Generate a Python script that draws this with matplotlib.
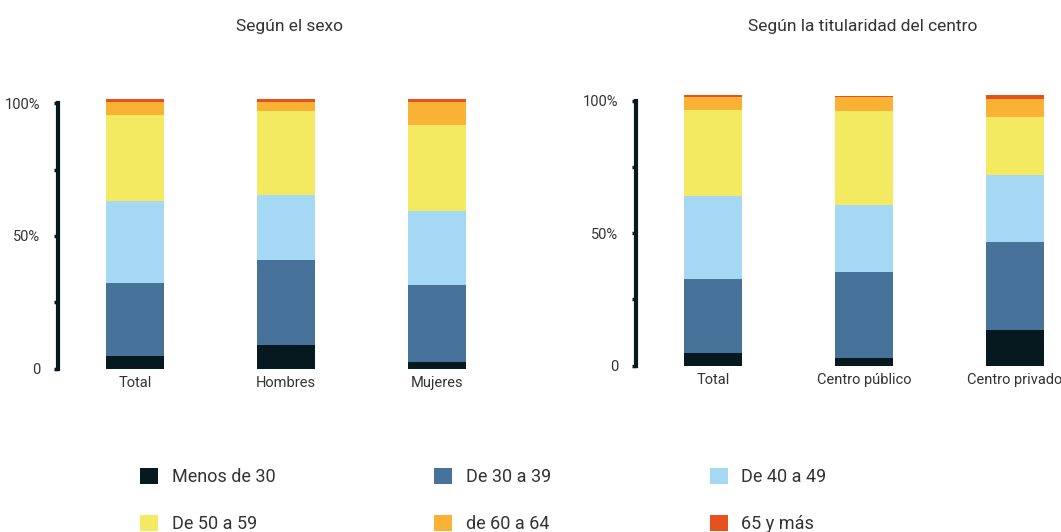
import matplotlib.pyplot as plt
from matplotlib.patches import Patch

plt.rcParams['font.family'] = ['Roboto', 'DejaVu Sans']

# age groups (stack order, bottom to top)
groups = ['Menos de 30', 'De 30 a 39', 'De 40 a 49', 'De 50 a 59', 'de 60 a 64', '65 y más']
colors = ['#06191f', '#47729a', '#a4d8f3', '#f3ea62', '#f9b233', '#e8501d']

# panel 1: por sexo
sex_cats = ['Total', 'Hombres', 'Mujeres']
sex_menos30 = [4.8, 8.9, 2.5]
sex_30_39 = [27.4, 31.9, 28.9]
sex_40_49 = [31.1, 24.8, 28.1]
sex_50_59 = [32.3, 31.5, 32.3]
sex_60_64 = [4.9, 3.4, 8.6]
sex_65 = [1.1, 1.1, 1.1]

# panel 2: por titularidad
tit_cats = ['Total', 'Centro público', 'Centro privado']
tit_menos30 = [4.8, 3.0, 13.5]
tit_30_39 = [27.9, 32.3, 33.2]
tit_40_49 = [31.3, 25.3, 25.3]
tit_50_59 = [32.5, 35.5, 21.9]
tit_60_64 = [4.9, 5.4, 6.8]
tit_65 = [0.9, 0.4, 1.6]

fig = plt.figure(figsize=(10.61, 5.32), dpi=100)
ax1 = fig.add_axes([0.0547, 0.307, 0.4284, 0.5088])
ax2 = fig.add_axes([0.5994, 0.3126, 0.3998, 0.508])

axcol = '#06191f'
txtcol = '#333333'


def draw_panel(ax, cats, series, xmax):
    x = list(range(len(cats)))
    bottom = [0] * len(cats)
    for vals, c in zip(series, colors):
        ax.bar(x, vals, width=0.384, bottom=bottom, color=c)
        bottom = [b + v for b, v in zip(bottom, vals)]
    ax.set_xlim(-0.51, xmax)
    ax.set_ylim(0, 102)
    for s in ['top', 'right', 'bottom']:
        ax.spines[s].set_visible(False)
    ax.spines['left'].set_color(axcol)
    ax.spines['left'].set_linewidth(3)
    ax.spines['left'].set_bounds(0, 100)
    ax.set_yticks([0, 25, 50, 75, 100])
    ax.set_yticklabels(['0', '', '50%', '', '100%'])
    ax.tick_params(axis='y', length=3, width=2.5, color=axcol, pad=10,
                   labelsize=10.5, labelcolor=txtcol)
    ax.set_xticks(x)
    ax.set_xticklabels(cats)
    ax.tick_params(axis='x', length=0, pad=5, labelsize=10.5, labelcolor=txtcol)


draw_panel(ax1, sex_cats, [sex_menos30, sex_30_39, sex_40_49, sex_50_59, sex_60_64, sex_65], 2.5)
draw_panel(ax2, tit_cats, [tit_menos30, tit_30_39, tit_40_49, tit_50_59, tit_60_64, tit_65], 2.3)

fig.text(290 / 1061, 1 - 26 / 532, 'Según el sexo', ha='center', va='center',
         fontsize=12.5, color=txtcol)
fig.text(863 / 1061, 1 - 26 / 532, 'Según la titularidad del centro', ha='center', va='center',
         fontsize=12.5, color=txtcol)

# legend filled row by row, 3 per row
handles = [Patch(facecolor=c, label=g) for g, c in zip(groups, colors)]
order = [0, 3, 1, 4, 2, 5]
leg = fig.legend(handles=[handles[i] for i in order], ncol=3, loc='upper left',
                 bbox_to_anchor=(140 / 1061, 1 - 468 / 532), frameon=False,
                 fontsize=13, handlelength=1.0, handleheight=1.0, handletextpad=0.75,
                 columnspacing=8.8, labelspacing=1.6, borderpad=0, borderaxespad=0)
for t in leg.get_texts():
    t.set_color(txtcol)

fig.savefig('out.png', dpi=100)
